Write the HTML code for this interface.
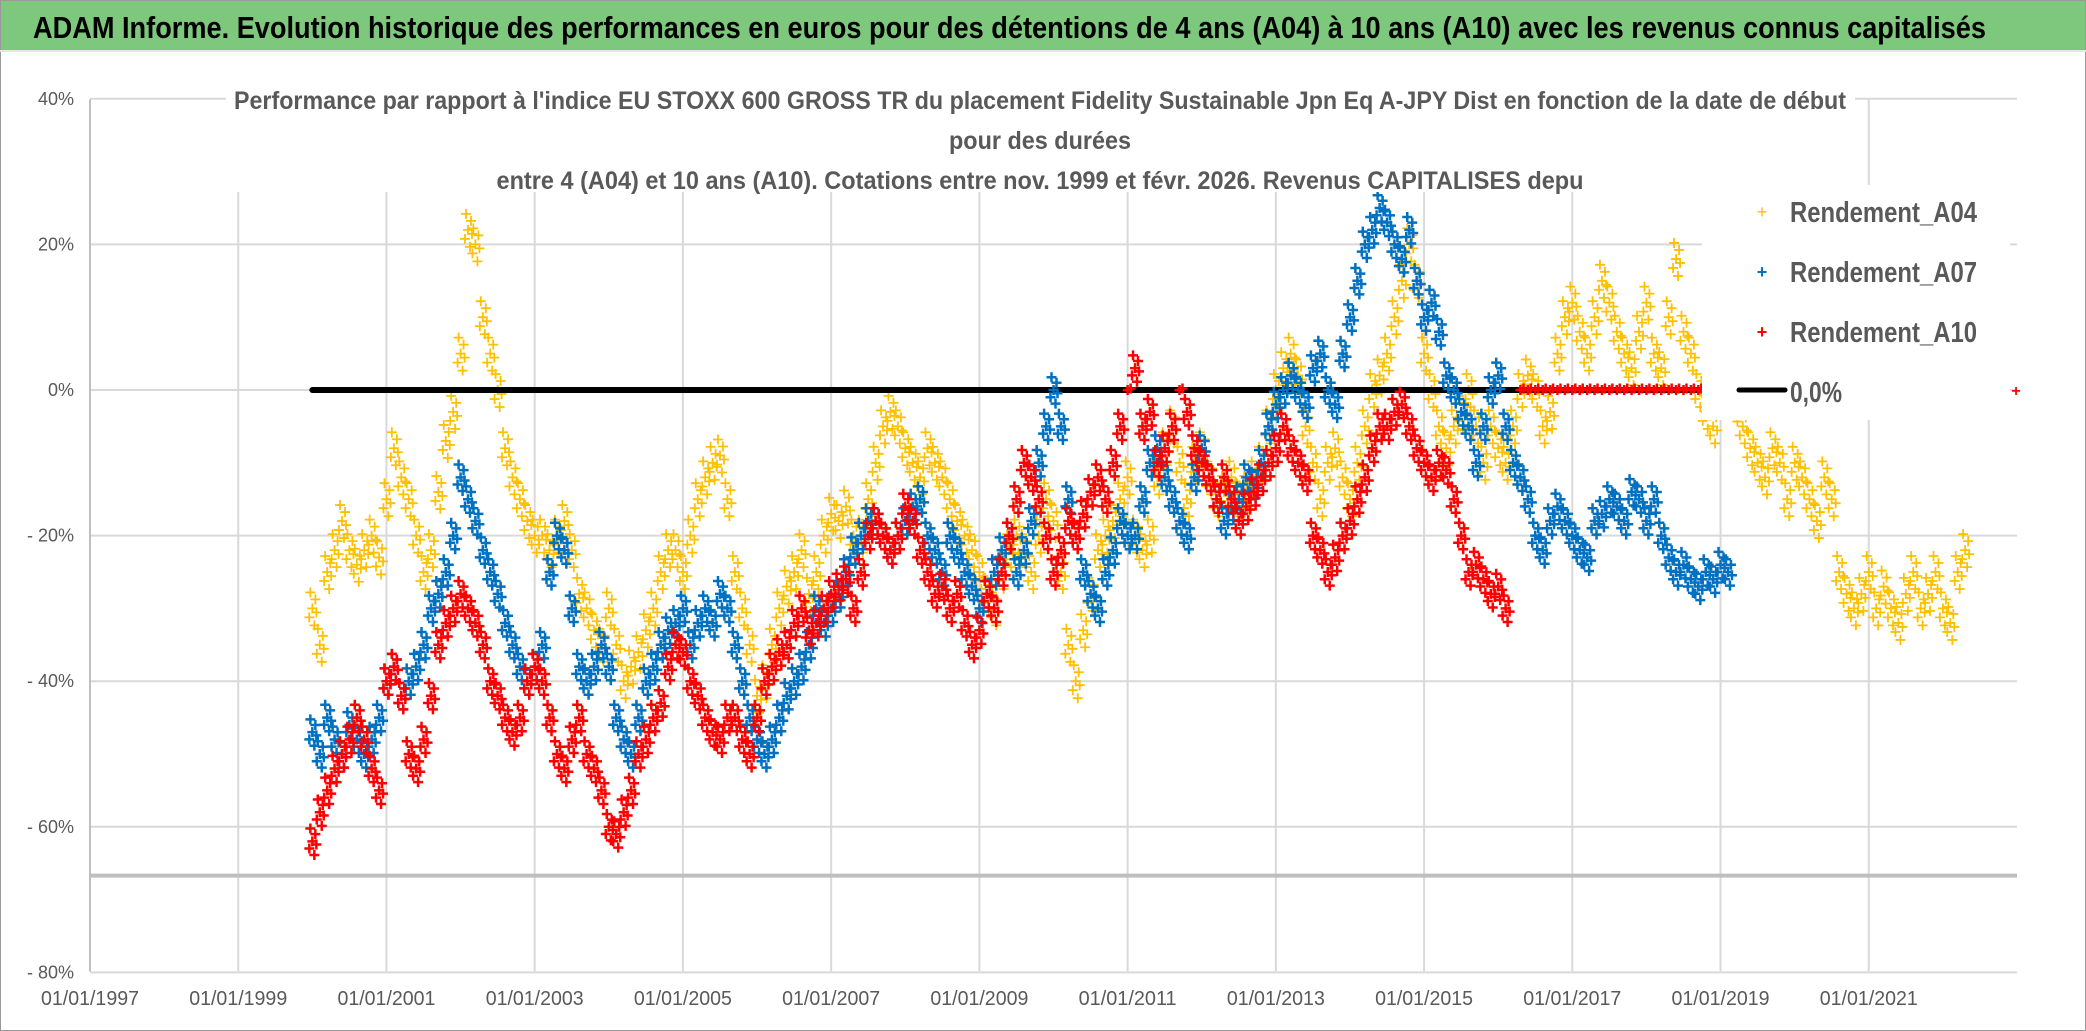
<!DOCTYPE html>
<html><head><meta charset="utf-8"><style>
html,body{margin:0;padding:0;background:#fff;}
svg{display:block;font-family:"Liberation Sans Narrow","Liberation Sans",sans-serif;}
</style></head><body>
<svg id="chart" width="2086" height="1031" viewBox="0 0 2086 1031" xmlns="http://www.w3.org/2000/svg">
<rect x="0" y="0" width="2086" height="1031" fill="#fff" stroke="#999" stroke-width="2"/>
<rect x="1" y="1" width="2084" height="49" fill="#7dc87d"/>
<line x1="0" y1="51" x2="2086" y2="51" stroke="#e6e6e6" stroke-width="2"/>
<text x="33" y="38" font-size="31" font-weight="bold" fill="#000" textLength="1953" lengthAdjust="spacingAndGlyphs">ADAM Informe. Evolution historique des performances en euros pour des détentions de 4 ans (A04) à 10 ans (A10) avec les revenus connus capitalisés</text>
<g id="grid"></g>
<g id="marks"></g>
<rect x="226" y="80" width="1629" height="112" fill="#fff"/>
<g fill="#595959" font-size="25" text-anchor="middle" font-weight="bold">
<text x="1040" y="109" textLength="1612" lengthAdjust="spacingAndGlyphs">Performance par rapport à l'indice EU STOXX 600 GROSS TR  du placement Fidelity Sustainable Jpn Eq A-JPY Dist en fonction de la date de début</text>
<text x="1040" y="149" textLength="182" lengthAdjust="spacingAndGlyphs">pour des durées</text>
<text x="1040" y="189" textLength="1087" lengthAdjust="spacingAndGlyphs">entre 4 (A04) et 10 ans (A10). Cotations entre nov. 1999 et févr. 2026. Revenus CAPITALISES depu</text>
</g>
<g id="legend">
<rect x="1702" y="185" width="308" height="235" fill="#fff"/>
<text x="1762" y="218" font-size="18" fill="#ffc000" text-anchor="middle">+</text>
<text x="1790" y="222" font-size="29" fill="#595959" font-weight="bold" textLength="187" lengthAdjust="spacingAndGlyphs">Rendement_A04</text>
<text x="1762" y="278" font-size="18" fill="#0070c0" font-weight="bold" text-anchor="middle">+</text>
<text x="1790" y="282" font-size="29" fill="#595959" font-weight="bold" textLength="187" lengthAdjust="spacingAndGlyphs">Rendement_A07</text>
<text x="1762" y="338" font-size="18" fill="#ff0000" font-weight="bold" text-anchor="middle">+</text>
<text x="1790" y="342" font-size="29" fill="#595959" font-weight="bold" textLength="187" lengthAdjust="spacingAndGlyphs">Rendement_A10</text>
<line x1="1739" y1="390" x2="1785" y2="390" stroke="#000" stroke-width="5" stroke-linecap="round"/>
<text x="1790" y="402" font-size="29" fill="#595959" font-weight="bold" textLength="52" lengthAdjust="spacingAndGlyphs">0,0%</text>
<text x="2016" y="396" font-size="16" fill="#ff0000" font-weight="bold" text-anchor="middle">+</text>
</g>
</svg>
<script>
const xTickYears = [1997,1999,2001,2003,2005,2007,2009,2011,2013,2015,2017,2019,2021];
const yTicks = [40,20,0,-20,-40,-60,-80];
const yTickLabels = ["40%","20%","0%","- 20%","- 40%","- 60%","- 80%"];
const refLevel = -66.7;
const zeroLineStart = 2000.0, zeroLineEnd = 2019.05;
const a04Start = 2000.0;
const a04 = [-30,-35,-25,-22,-18,-22,-24,-22,-20,-23,-15,-8,-12,-15,-20,-25,-22,-14,-7,-3,5,22,20,10,5,0,-8,-12,-15,-18,-20,-20,-22,-20,-18,-22,-28,-30,-33,-35,-30,-35,-40,-38,-36,-33,-30,-25,-22,-22,-25,-20,-15,-12,-10,-9,-15,-25,-30,-35,-42,-40,-35,-30,-27,-25,-22,-28,-25,-20,-17,-18,-16,-20,-20,-15,-10,-5,-3,-5,-8,-10,-12,-8,-10,-12,-15,-18,-20,-22,-25,-28,-30,-25,-22,-20,-22,-25,-20,-15,-18,-25,-35,-40,-33,-28,-22,-20,-18,-15,-12,-20,-22,-20,-12,-8,-5,-10,-15,-10,-8,-12,-15,-14,-12,-15,-14,-12,-10,-5,0,3,5,2,-5,-10,-15,-10,-8,-12,-15,-10,-5,0,2,5,10,15,20,15,5,0,-5,-8,-5,-3,0,-5,-10,-5,-8,-10,-5,0,2,0,-5,-3,5,10,12,8,5,10,15,12,8,5,3,8,12,5,3,10,18,8,5,0,-3,-5,0,2,-2,-5,-8,-10,-12,-8,-10,-15,-10,-12,-15,-18,-12,-15,-25,-28,-30,-28,-25,-30,-27,-30,-32,-28,-25,-30,-28,-25,-30,-32,-25,-22];
const a07Start = 2000.0;
const a07 = [-47,-50,-45,-48,-50,-46,-48,-50,-48,-45,-40,-38,-42,-40,-38,-35,-30,-28,-25,-20,-12,-15,-18,-22,-25,-28,-32,-35,-38,-40,-38,-35,-25,-20,-22,-30,-38,-40,-38,-35,-38,-45,-48,-50,-45,-40,-38,-35,-33,-32,-30,-35,-32,-30,-32,-28,-30,-35,-40,-45,-48,-50,-48,-45,-42,-40,-38,-35,-30,-32,-30,-28,-25,-22,-20,-18,-18,-20,-22,-20,-18,-16,-15,-20,-22,-25,-20,-22,-25,-27,-30,-28,-25,-22,-20,-25,-22,-18,-10,-5,0,-5,-15,-20,-25,-28,-30,-25,-22,-18,-20,-20,-15,-10,-8,-12,-15,-18,-20,-12,-8,-12,-15,-18,-16,-15,-12,-13,-10,-5,-2,0,2,0,-2,3,5,0,-2,5,10,15,20,22,25,23,20,18,22,15,10,12,8,2,0,-3,-5,-10,-5,0,2,-5,-10,-12,-15,-20,-22,-18,-16,-18,-20,-22,-23,-18,-17,-15,-16,-18,-14,-15,-18,-15,-20,-23,-25,-24,-26,-27,-25,-26,-24,-25];
const a10Start = 2000.0;
const a10 = [-62,-58,-55,-52,-50,-48,-45,-48,-52,-55,-40,-38,-42,-50,-52,-48,-42,-35,-32,-30,-28,-30,-32,-35,-40,-42,-45,-47,-45,-40,-38,-40,-45,-50,-52,-48,-45,-50,-52,-55,-60,-61,-58,-55,-50,-48,-45,-43,-38,-35,-36,-40,-42,-45,-47,-48,-45,-45,-48,-50,-45,-40,-38,-36,-35,-32,-30,-33,-32,-30,-28,-27,-26,-30,-25,-20,-18,-20,-22,-20,-16,-18,-22,-25,-28,-27,-30,-28,-32,-35,-33,-28,-30,-25,-20,-15,-10,-12,-15,-20,-25,-22,-18,-20,-17,-14,-12,-15,-10,-5,0,3,-5,-3,-10,-8,-5,0,-3,-8,-10,-12,-15,-12,-15,-18,-16,-14,-12,-10,-8,-5,-8,-10,-12,-20,-22,-25,-23,-20,-18,-15,-12,-8,-5,-5,-3,-2,-5,-8,-10,-12,-10,-11,-15,-20,-25,-24,-26,-28,-27,-30,null,0,0,0,0,0,0,0,0,0,0,0,0,0,0,0,0,0,0,0,0,0,0,0,0,0,0,0];

const svgNS = "http://www.w3.org/2000/svg";
const L = 90, R = 2017, T = 99.4, B = 971.2;
const x0Year = 1997, x1Year = 2023;
function xs(y){ return L + (y - x0Year) / (x1Year - x0Year) * (R - L); }
function ys(v){ return 390 - v * 7.28; }
function mk(tag, attrs, parent){ const e = document.createElementNS(svgNS, tag); for (const k in attrs) e.setAttribute(k, attrs[k]); parent.appendChild(e); return e; }

const grid = document.getElementById('grid');
yTicks.forEach((v, i) => {
  const ln = mk('line', {x1: L, x2: R, y1: ys(v), y2: ys(v), stroke: '#d9d9d9', 'stroke-width': 2}, grid);
  
  
  const t = mk('text', {x: 74, y: ys(v) + 6, 'font-size': 18, fill: '#595959', 'text-anchor': 'end'}, grid);
  t.textContent = yTickLabels[i];
  
  
});
xTickYears.forEach(yr => {
  const ln = mk('line', {x1: xs(yr), x2: xs(yr), y1: T, y2: B, stroke: '#d9d9d9', 'stroke-width': 2}, grid);
  
  
  const t = mk('text', {x: xs(yr), y: 1005, 'font-size': 20, fill: '#595959', 'text-anchor': 'middle', textLength: 98, lengthAdjust: 'spacingAndGlyphs'}, grid);
  t.textContent = '01/01/' + yr;
  
  
});
const axisY = mk('line', {x1: L, x2: L, y1: T, y2: B, stroke: '#bfbfbf', 'stroke-width': 2}, grid);


const refLine = mk('line', {x1: L, x2: R, y1: ys(refLevel), y2: ys(refLevel), stroke: '#bfbfbf', 'stroke-width': 4}, grid);



const marks = document.getElementById('marks');
const clusterDX = [0, 3, -3, 2, -2, 4];
const clusterDY = [0, -9, 9, 17, -16, 4];
function series(vals, start, color, name, w, spread){
  const g = mk('g', {stroke: color, 'stroke-width': w}, marks);
  
  
  let d = '';
  vals.forEach((v, i) => {
    if (v === null) return;
    const bx = xs(start + i * 0.1), by = ys(v);
    const n = (v === 0 && name === 'series-a10') ? 2 : clusterDX.length;
    for (let k = 0; k < n; k++) {
      const cx = bx + clusterDX[k], cy = by + clusterDY[k] * spread * (n === 2 ? 0.2 : 1);
      d += 'M' + (cx - 5) + ' ' + cy + 'h10M' + cx + ' ' + (cy - 5) + 'v10';
    }
  });
  const p = mk('path', {d: d, fill: 'none'}, g);
  
  
}
series(a04, a04Start, '#ffc000', 'series-a04', 1.8, 1);
const zl = mk('line', {x1: xs(zeroLineStart), x2: xs(zeroLineEnd), y1: ys(0), y2: ys(0), stroke: '#000', 'stroke-width': 6, 'stroke-linecap': 'round'}, marks);


series(a07, a07Start, '#0070c0', 'series-a07', 2.5, 0.8);
series(a10, a10Start, '#ff0000', 'series-a10', 2.5, 0.8);
</script>
</body></html>
